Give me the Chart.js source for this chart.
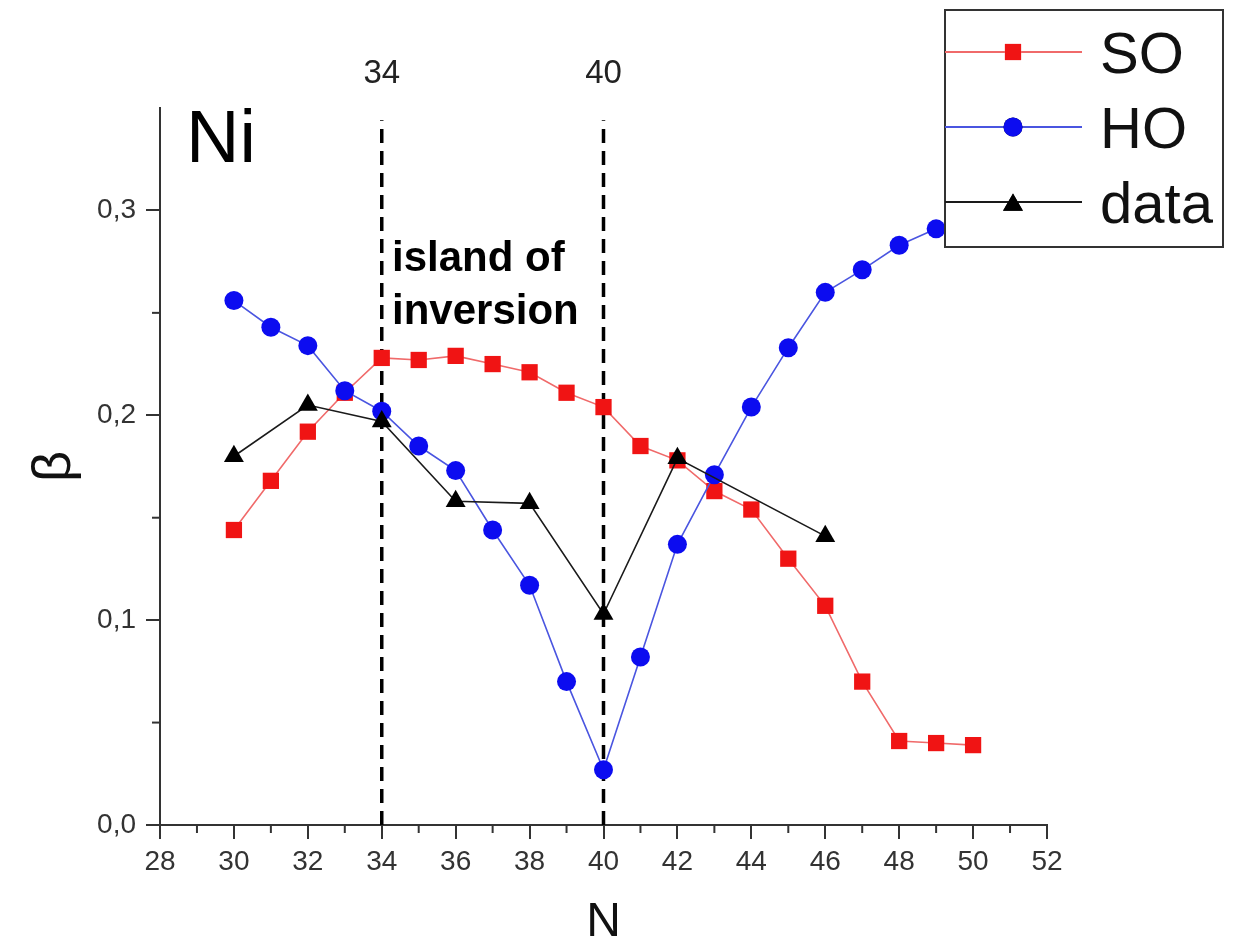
<!DOCTYPE html>
<html>
<head>
<meta charset="utf-8">
<script src="https://cdn.jsdelivr.net/npm/chart.js@4.4.1/dist/chart.umd.min.js"></script>
<style>
  html, body { margin: 0; padding: 0; background: #fff; }
  canvas { display: block; }
</style>
</head>
<body>
<canvas id="myChartNi" width="1236" height="947"></canvas>
<script>
// beta deformation, Ni isotopes

var nAll = [30, 31, 32, 33, 34, 35, 36, 37, 38, 39, 40, 41, 42, 43, 44, 45, 46, 47, 48, 49, 50];
var soValues = [0.144, 0.168, 0.192, 0.211, 0.228, 0.227, 0.229, 0.225, 0.221, 0.211, 0.204,
    0.185, 0.178, 0.163, 0.154, 0.130, 0.107, 0.070, 0.041, 0.040, 0.039];
var hoValues = [0.256, 0.243, 0.234, 0.212, 0.202, 0.185, 0.173, 0.144, 0.117, 0.070, 0.027,
    0.082, 0.137, 0.171, 0.204, 0.233, 0.260, 0.271, 0.283, 0.291, 0.297];
var nData = [30, 32, 34, 36, 38, 40, 42, 46];
var dataValues = [0.180, 0.205, 0.197, 0.158, 0.157, 0.103, 0.179, 0.141];

var magicN = [34, 40];
var magicTop = 0.344;

var xTicks = [28, 30, 32, 34, 36, 38, 40, 42, 44, 46, 48, 50, 52];
var xMinor = [29, 31, 33, 35, 37, 39, 41, 43, 45, 47, 49, 51];
var yTicks = [0, 0.1, 0.2, 0.3];
var yMinor = [0.05, 0.15, 0.25];

var legendItems = ['SO', 'HO', 'data'];

function pts(xs, ys) {
    return xs.map(function (x, i) { return {x: x, y: ys[i]}; });
}

var RED = '#f01414', BLUE = '#0c0cf0', BLACK = '#000000';

// minor ticks, labels, legend
var extras = {
    id: 'extras',
    afterDraw: function (chart) {
        var ctx = chart.ctx;
        var xs = chart.scales.x, ys = chart.scales.y;
        var area = chart.chartArea;
        ctx.save();
        ctx.strokeStyle = '#333';
        ctx.lineWidth = 2;
        xMinor.forEach(function (v) {
            var px = xs.getPixelForValue(v);
            ctx.beginPath(); ctx.moveTo(px, area.bottom); ctx.lineTo(px, area.bottom + 8); ctx.stroke();
        });
        yMinor.forEach(function (v) {
            var py = ys.getPixelForValue(v);
            ctx.beginPath(); ctx.moveTo(area.left, py); ctx.lineTo(area.left - 8, py); ctx.stroke();
        });

        ctx.fillStyle = '#222';
        ctx.textAlign = 'center';
        ctx.textBaseline = 'alphabetic';
        ctx.font = '33px "Liberation Sans", Arial, sans-serif';
        magicN.forEach(function (n) {
            ctx.fillText(String(n), xs.getPixelForValue(n), 83);
        });

        ctx.fillStyle = '#000';
        ctx.textAlign = 'left';
        ctx.font = '74px "Liberation Sans", Arial, sans-serif';
        ctx.fillText('Ni', area.left + 26, 162);

        ctx.font = 'bold 42px "Liberation Sans", Arial, sans-serif';
        ctx.fillText('island of', 392, 271);
        ctx.fillText('inversion', 392, 324);

        // legend box
        var bx = 945, by = 10, bw = 278, bh = 237;
        ctx.fillStyle = '#fff';
        ctx.fillRect(bx, by, bw, bh);
        ctx.strokeStyle = '#333';
        ctx.lineWidth = 2;
        ctx.strokeRect(bx, by, bw, bh);
        var sets = [chart.data.datasets[2], chart.data.datasets[1], chart.data.datasets[0]];
        legendItems.forEach(function (name, i) {
            var ds = sets[i];
            var ly = 52 + i * 75;
            ctx.strokeStyle = ds.borderColor;
            ctx.lineWidth = 2;
            ctx.beginPath(); ctx.moveTo(bx, ly); ctx.lineTo(bx + 137, ly); ctx.stroke();
            Chart.helpers.drawPoint(ctx, {
                pointStyle: ds.pointStyle, radius: ds.pointRadius, rotation: 0, borderWidth: 0
            }, bx + 68, ly + (ds.pointStyle === 'triangle' ? 3 : 0));
            ctx.fillStyle = ds.pointBackgroundColor;
            ctx.fill();
            ctx.fillStyle = '#111';
            ctx.font = '58px "Liberation Sans", Arial, sans-serif';
            ctx.textAlign = 'left';
            ctx.fillText(name, bx + 155, ly + 21);
        });
        ctx.restore();
    }
};

new Chart("myChartNi", {
    type: "scatter",
    data: {
        datasets: [{
            label: 'data',
            data: pts(nData, dataValues),
            showLine: true,
            borderColor: '#1a1a1a',
            borderWidth: 1.6,
            pointStyle: 'triangle',
            pointRadius: 11.5,
            pointBackgroundColor: BLACK,
            pointBorderWidth: 0
        }, {
            label: 'HO',
            data: pts(nAll, hoValues),
            showLine: true,
            borderColor: '#4a55e0',
            borderWidth: 1.6,
            pointStyle: 'circle',
            pointRadius: 9.5,
            pointBackgroundColor: BLUE,
            pointBorderWidth: 0
        }, {
            label: 'SO',
            data: pts(nAll, soValues),
            showLine: true,
            borderColor: '#f06a6a',
            borderWidth: 1.6,
            pointStyle: 'rect',
            pointRadius: 11.5,
            pointBackgroundColor: RED,
            pointBorderWidth: 0
        }, {
            label: 'N=34',
            data: [{x: magicN[0], y: 0}, {x: magicN[0], y: magicTop}],
            showLine: true,
            borderColor: '#000',
            borderWidth: 3.5,
            borderDash: [14, 8],
            pointRadius: 0
        }, {
            label: 'N=40',
            data: [{x: magicN[1], y: 0}, {x: magicN[1], y: magicTop}],
            showLine: true,
            borderColor: '#000',
            borderWidth: 3.5,
            borderDash: [14, 8],
            pointRadius: 0
        }]
    },
    options: {
        responsive: false,
        animation: false,
        devicePixelRatio: 1,
        layout: {
            padding: {top: 108, right: 189, left: 0, bottom: 0}
        },
        plugins: {
            legend: {display: false},
            tooltip: {enabled: false}
        },
        scales: {
            x: {
                type: 'linear',
                min: 28,
                max: 52,
                afterBuildTicks: function (s) { s.ticks = xTicks.map(function (v) { return {value: v}; }); },
                afterFit: function (s) { s.height = 122; },
                ticks: {
                    color: '#333',
                    padding: 6,
                    maxRotation: 0,
                    font: {size: 28, family: '"Liberation Sans", Arial, sans-serif'}
                },
                grid: {drawOnChartArea: false, drawTicks: true, tickLength: 14, color: '#333', lineWidth: 2},
                border: {color: '#333', width: 2},
                title: {
                    display: true,
                    text: 'N',
                    color: '#111',
                    padding: {top: 0, bottom: 0},
                    font: {size: 48, lineHeight: 1, family: '"Liberation Sans", Arial, sans-serif'}
                }
            },
            y: {
                min: 0,
                max: 0.35,
                afterBuildTicks: function (s) { s.ticks = yTicks.map(function (v) { return {value: v}; }); },
                afterFit: function (s) { s.width = 160; },
                ticks: {
                    color: '#333',
                    padding: 10,
                    font: {size: 28, family: '"Liberation Sans", Arial, sans-serif'},
                    callback: function (v) { return v.toFixed(1).replace('.', ','); }
                },
                grid: {drawOnChartArea: false, drawTicks: true, tickLength: 14, color: '#333', lineWidth: 2},
                border: {color: '#333', width: 2},
                title: {
                    display: true,
                    text: 'β',
                    color: '#111',
                    padding: {top: 28, bottom: 0},
                    font: {size: 54, lineHeight: 1, family: '"Liberation Sans", Arial, sans-serif'}
                }
            }
        }
    },
    plugins: [extras]
});
</script>
</body>
</html>
